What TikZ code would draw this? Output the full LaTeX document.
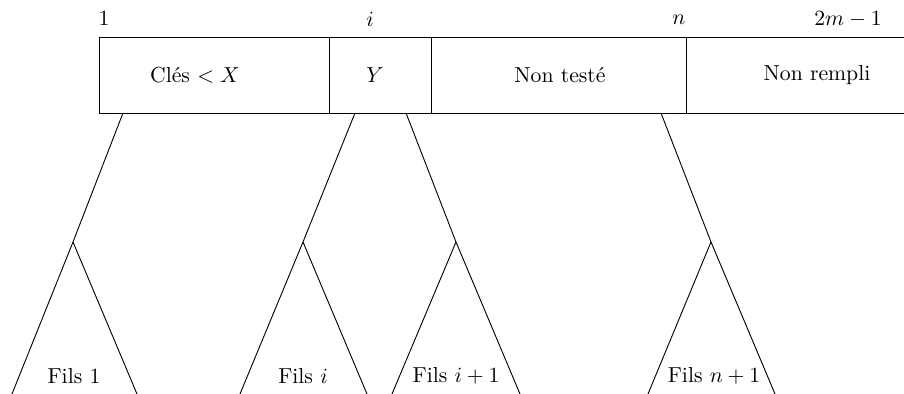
\documentclass[tikz,border=0pt]{standalone}
\begin{document}
\begin{tikzpicture}[x=0.461pt,y=-0.461pt,
  cell/.style={inner sep=0pt, anchor=center},
  idx/.style={inner sep=0pt, anchor=center},
  tree/.style={line width=0.42pt}]
\useasboundingbox (0,0) rectangle (904,394);
% cells
\node[cell] (c1) at (195,75) {Clés $<X$};
\node[cell] (c2) at (375,75) {$Y$};
\node[cell] (c3) at (560,75) {Non testé};
\node[cell] (c4) at (817,75) {Non rempli};
% indices
\node[idx] (i1) at (104,19) {$1$};
\node[idx] (ii) at (370,19) {$i$};
\node[idx] (in) at (679,20) {$n$};
\node[idx] (im) at (848,19) {$2m-1$};
% box
\draw (904,37) -- (99,37) -- (99,113) -- (904,113);
\draw (329,37) -- (329,113);
\draw (431,37) -- (431,113);
\draw (686,37) -- (686,113);
% tree coordinates
\coordinate (s1) at (123,113);
\coordinate (s2) at (355,113);
\coordinate (s3) at (406,113);
\coordinate (s4) at (661,113);
\coordinate (a1) at (73,242);
\coordinate (a2) at (303,242);
\coordinate (a3) at (456,242);
\coordinate (a4) at (711,242);
\coordinate (l1) at (12,394);  \coordinate (r1) at (137,394);
\coordinate (l2) at (240,394); \coordinate (r2) at (367,394);
\coordinate (l3) at (392,394); \coordinate (r3) at (520,394);
\coordinate (l4) at (648,394); \coordinate (r4) at (775,394);
\draw[tree] (s1) -- (a1) -- (l1) (a1) -- (r1);
\draw[tree] (s2) -- (a2) -- (l2) (a2) -- (r2);
\draw[tree] (s3) -- (a3) -- (r3) (a3) -- (l3);
\draw[tree] (s4) -- (a4) -- (r4) (a4) -- (l4);
% labels
\node[cell] (f1) at (74,376) {Fils $1$};
\node[cell] (f2) at (303,376) {Fils $i$};
\node[cell] (f3) at (456,376) {Fils $i+1$};
\node[cell] (f4) at (714,376) {Fils $n+1$};
\end{tikzpicture}
\end{document}
